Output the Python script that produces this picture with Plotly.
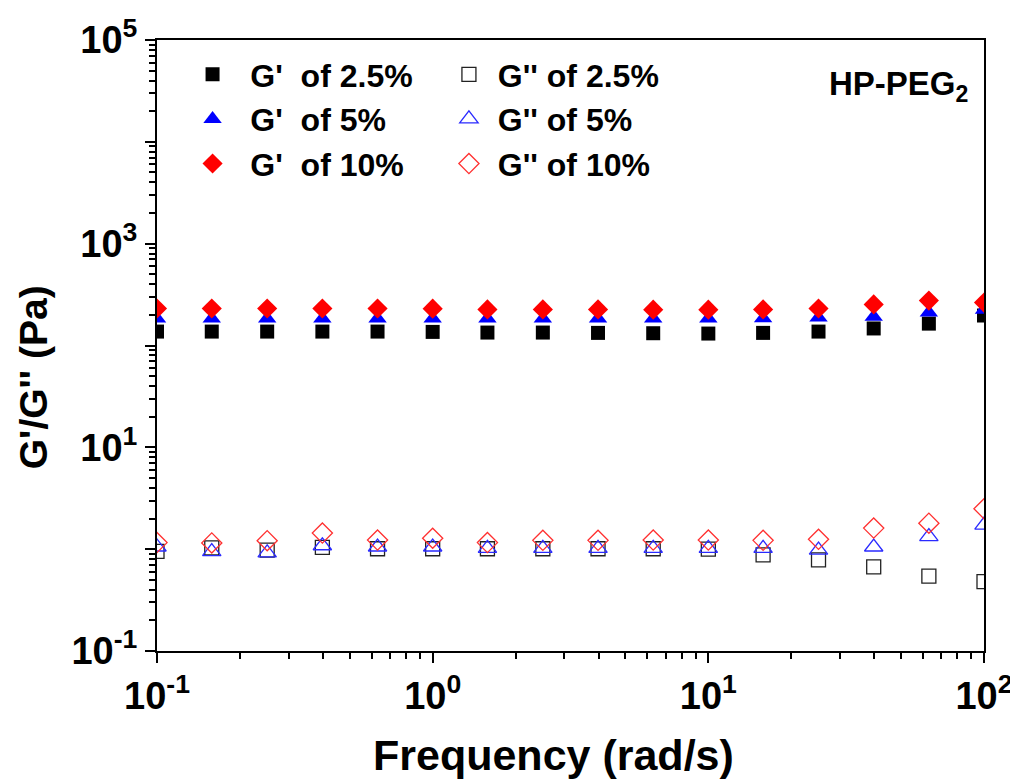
import plotly.graph_objects as go

freq = [0.1, 0.158, 0.251, 0.398, 0.631, 1.0, 1.58, 2.51, 3.98, 6.31, 10.0, 15.8, 25.1, 39.8, 63.1, 100.0]

g1_25 = [137, 137, 137, 137, 137, 136, 134, 134, 133, 132, 131, 133, 137, 147, 164, 197]
g1_5 = [184, 184, 184, 184, 184, 184, 184, 184, 184, 184, 184, 185, 188, 192, 211, 225]
g1_10 = [231, 231, 231, 231, 231, 230, 226, 226, 226, 225, 225, 226, 231, 253, 276, 264]

g2_25 = [0.95, 1.03, 0.98, 1.04, 1.01, 1.01, 1.01, 1.01, 1.01, 1.01, 1.00, 0.88, 0.785, 0.67, 0.543, 0.48]
g2_5 = [1.05, 0.946, 0.92, 1.08, 1.05, 1.05, 1.02, 1.02, 1.02, 1.02, 1.02, 1.02, 0.98, 1.05, 1.33, 1.72]
g2_10 = [1.16, 1.15, 1.21, 1.44, 1.23, 1.28, 1.16, 1.22, 1.22, 1.23, 1.23, 1.22, 1.25, 1.61, 1.80, 2.49]

NB = "\u00a0"
names_g1 = [NB * 2 + "G'" + NB * 2 + "of 2.5%", NB * 2 + "G'" + NB * 2 + "of 5%", NB * 2 + "G'" + NB * 2 + "of 10%"]
names_g2 = [NB + "G'' of 2.5%", NB + "G'' of 5%", NB + "G'' of 10%"]
colors_fill = ["#000000", "#0000ff", "#ff0000"]
colors_open = ["#222222", "#2a2aff", "#ff3030"]
sym_fill = ["square", "triangle-up", "diamond"]
sym_open = ["square-open", "triangle-up-open", "diamond-open"]
sizes = [14, 16, 15.5]

FONT = "Liberation Sans, Arial, sans-serif"

fig = go.Figure()
for ys, nm, c, s, sz in zip([g1_25, g1_5, g1_10], names_g1, colors_fill, sym_fill, sizes):
    fig.add_trace(go.Scatter(x=freq, y=ys, mode="markers", name=nm, legend="legend",
                             marker=dict(symbol=s, color=c, size=sz, line=dict(width=0))))
for ys, nm, c, s, sz in zip([g2_25, g2_5, g2_10], names_g2, colors_open, sym_open, sizes):
    fig.add_trace(go.Scatter(x=freq, y=ys, mode="markers", name=nm, legend="legend2",
                             marker=dict(symbol=s, color=c, size=sz, line=dict(width=1.3, color=c))))

y_tickvals = [0.1, 1, 10, 100, 1000, 1e4, 1e5]
y_ticktext = ["10<sup>-1</sup>", "", "10<sup>1</sup>", "", "10<sup>3</sup>", "", "10<sup>5</sup>"]
x_tickvals = [0.1, 1, 10, 100]
x_ticktext = ["10<sup>-1</sup>", "10<sup>0</sup>", "10<sup>1</sup>", "10<sup>2</sup>"]

minor_y = [m * 10 ** e for e in range(-1, 5) for m in range(2, 10)]
minor_x = [m * 10 ** e for e in range(-1, 2) for m in range(2, 10)]

legend_font = dict(family=FONT, size=32, color="black", weight="bold")

# figure sized so that it fits inside the page with the browser's default 8px body margin
W, H = 1010, 772
L, T = 149, 32
PW, PH = 827, 611

fig.update_layout(
    width=W, height=H,
    margin=dict(l=L, r=W - L - PW, t=T, b=H - T - PH),
    plot_bgcolor="white", paper_bgcolor="white",
    showlegend=True,
    legend=dict(x=0.043, y=0.9885, xanchor="left", yanchor="top", bgcolor="rgba(0,0,0,0)",
                font=legend_font, itemwidth=30, tracegroupgap=0),
    legend2=dict(x=0.353, y=0.9885, xanchor="left", yanchor="top", bgcolor="rgba(0,0,0,0)",
                 font=legend_font, itemwidth=30, tracegroupgap=0),
    annotations=[
        dict(text="HP-PEG<sub>2</sub>", xref="paper", yref="paper", x=0.983, y=0.962,
             xanchor="right", yanchor="top", showarrow=False,
             font=dict(family=FONT, size=33, color="black", weight="bold")),
        dict(text="Frequency (rad/s)", xref="paper", yref="paper", x=0.479, y=-0.17,
             xanchor="center", yanchor="middle", showarrow=False,
             font=dict(family=FONT, size=43, color="black", weight="bold")),
        dict(text="G'/G'' (Pa)", xref="paper", yref="paper", x=-0.15, y=0.448, textangle=-90,
             xanchor="center", yanchor="middle", showarrow=False,
             font=dict(family=FONT, size=39, color="black", weight="bold")),
    ],
)

fig.update_xaxes(
    type="log", range=[-1, 2], showgrid=False, zeroline=False, automargin=False,
    showline=True, linecolor="black", linewidth=2, mirror=True,
    ticks="outside", ticklen=10, tickwidth=2, tickcolor="black",
    tickmode="array", tickvals=x_tickvals, ticktext=x_ticktext,
    tickfont=dict(family=FONT, size=38, color="black", weight="bold"),
    minor=dict(tickmode="array", tickvals=minor_x, ticks="outside", ticklen=6, tickwidth=2, tickcolor="black", showgrid=False),
)
fig.update_yaxes(
    type="log", range=[-1, 5], showgrid=False, zeroline=False, automargin=False,
    showline=True, linecolor="black", linewidth=2, mirror=True,
    ticks="outside", ticklen=10, tickwidth=2, tickcolor="black",
    tickmode="array", tickvals=y_tickvals, ticktext=y_ticktext,
    tickfont=dict(family=FONT, size=38, color="black", weight="bold"),
    minor=dict(tickmode="array", tickvals=minor_y, ticks="outside", ticklen=6, tickwidth=2, tickcolor="black", showgrid=False),
)

fig.write_html("out.html")
